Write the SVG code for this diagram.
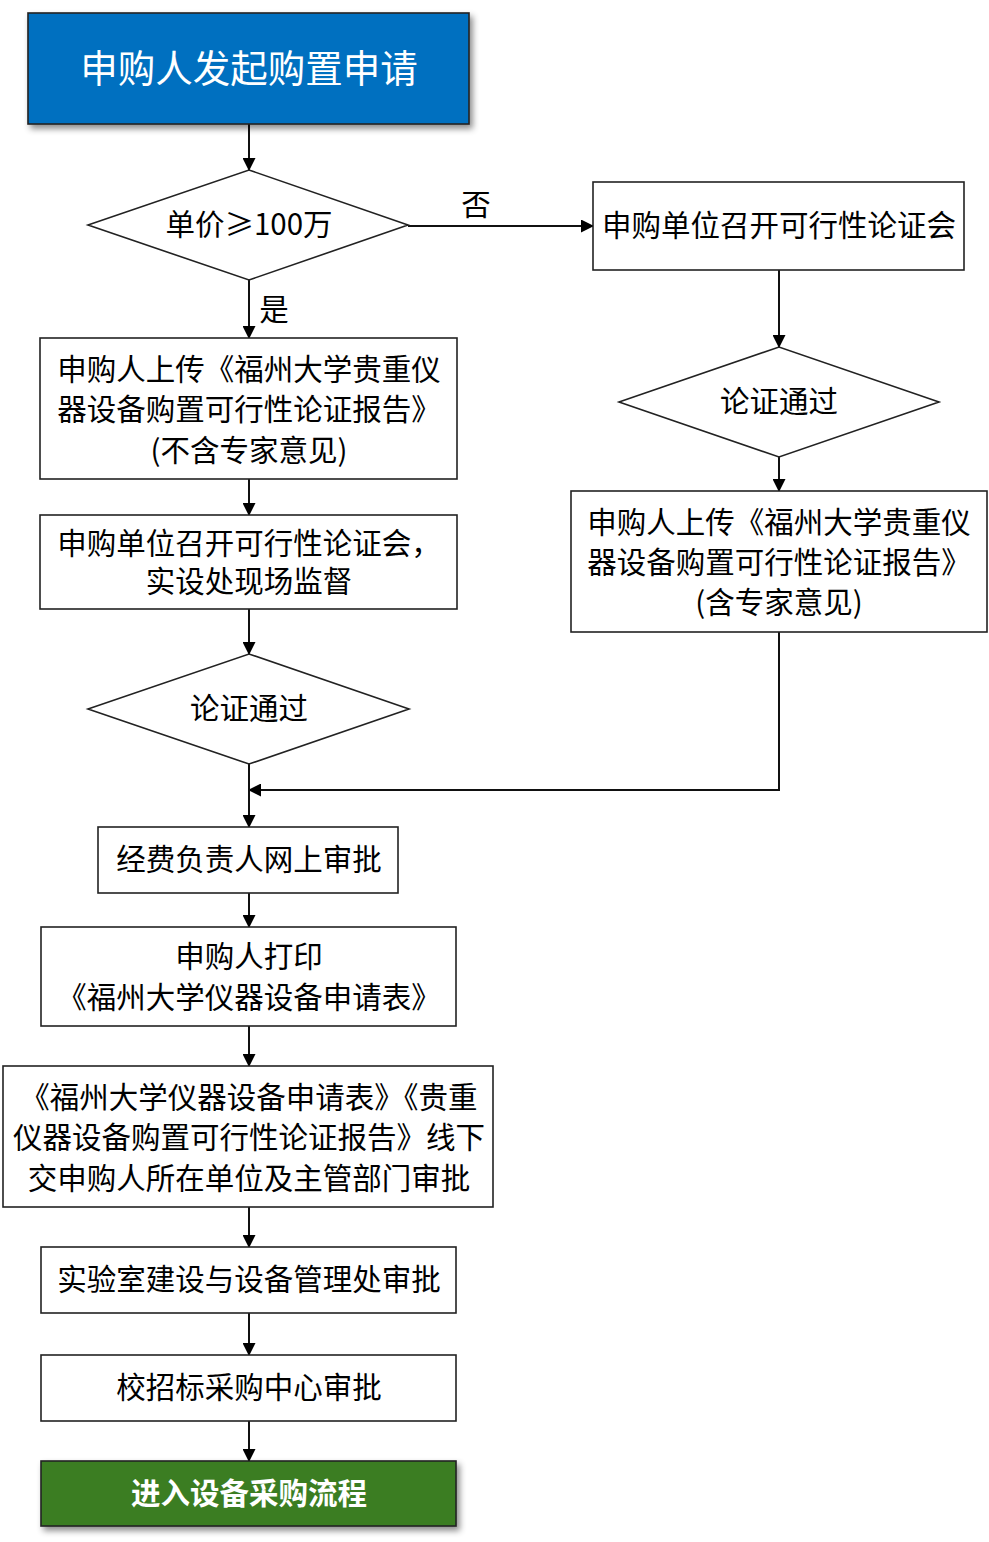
<svg xmlns="http://www.w3.org/2000/svg" width="989" height="1542" viewBox="0 0 989 1542">
<style>
.b{fill:#fff;stroke:#222;stroke-width:1.6}
.t{font-family:"Noto Sans CJK SC","Noto Sans",sans-serif;font-size:29.5px;fill:#000;text-anchor:middle;dominant-baseline:central}
.w{fill:#fff}
.c{fill:none;stroke:#111;stroke-width:2}
</style>
<defs>
<marker id="a" markerWidth="13" markerHeight="13" refX="12" refY="6.5" orient="auto" markerUnits="userSpaceOnUse" viewBox="0 0 13 13">
<path d="M0,0 L13,6.5 L0,13 z" fill="#000"/>
</marker>
<filter id="s" x="-10%" y="-20%" width="125%" height="150%">
<feDropShadow dx="3" dy="4" stdDeviation="3" flood-color="#000" flood-opacity="0.45"/>
</filter>
</defs>
<g id="connectors">
<line class="c" x1="249" y1="124" x2="249" y2="170" marker-end="url(#a)"/>
<line class="c" x1="408" y1="226" x2="593" y2="226" marker-end="url(#a)"/>
<line class="c" x1="249" y1="280" x2="249" y2="338" marker-end="url(#a)"/>
<line class="c" x1="779" y1="270" x2="779" y2="347" marker-end="url(#a)"/>
<line class="c" x1="779" y1="457" x2="779" y2="491" marker-end="url(#a)"/>
<line class="c" x1="249" y1="479" x2="249" y2="515" marker-end="url(#a)"/>
<line class="c" x1="249" y1="609" x2="249" y2="654" marker-end="url(#a)"/>
<polyline class="c" points="779,632 779,790 249,790" marker-end="url(#a)"/>
<line class="c" x1="249" y1="764" x2="249" y2="827" marker-end="url(#a)"/>
<line class="c" x1="249" y1="893" x2="249" y2="927" marker-end="url(#a)"/>
<line class="c" x1="249" y1="1026" x2="249" y2="1066" marker-end="url(#a)"/>
<line class="c" x1="249" y1="1207" x2="249" y2="1247" marker-end="url(#a)"/>
<line class="c" x1="249" y1="1313" x2="249" y2="1355" marker-end="url(#a)"/>
<line class="c" x1="249" y1="1421" x2="249" y2="1461" marker-end="url(#a)"/>
<text class="t" x="476" y="202">否</text>
<text class="t" x="274" y="307">是</text>
</g>
<g id="start">
<rect x="28" y="13" width="441" height="111" fill="#0070C0" stroke="#222" stroke-width="1.6" filter="url(#s)"/>
<text class="t w" x="249" y="65" style="font-size:37.5px">申购人发起购置申请</text>
</g>
<g id="d1">
<polygon class="b" points="88,225 249,170 408,225 249,280"/>
<text class="t" x="249" y="222">单价≥100万</text>
</g>
<g id="r1">
<rect class="b" x="593" y="182" width="371" height="88"/>
<text class="t" x="779" y="223">申购单位召开可行性论证会</text>
</g>
<g id="d2">
<polygon class="b" points="619,402 779,347 939,402 779,457"/>
<text class="t" x="779" y="399">论证通过</text>
</g>
<g id="r2">
<rect class="b" x="571" y="491" width="416" height="141"/>
<text class="t" x="779" y="520">申购人上传《福州大学贵重仪</text>
<text class="t" x="779" y="560">器设备购置可行性论证报告》</text>
<text class="t" x="779" y="600">(含专家意见)</text>
</g>
<g id="l1">
<rect class="b" x="40" y="338" width="417" height="141"/>
<text class="t" x="249" y="367">申购人上传《福州大学贵重仪</text>
<text class="t" x="249" y="407">器设备购置可行性论证报告》</text>
<text class="t" x="249" y="448">(不含专家意见)</text>
</g>
<g id="l2">
<rect class="b" x="40" y="515" width="417" height="94"/>
<text class="t" x="249" y="541">申购单位召开可行性论证会，</text>
<text class="t" x="249" y="579">实设处现场监督</text>
</g>
<g id="d3">
<polygon class="b" points="88,709 249,654 409,709 249,764"/>
<text class="t" x="249" y="706">论证通过</text>
</g>
<g id="l3">
<rect class="b" x="98" y="827" width="300" height="66"/>
<text class="t" x="249" y="857">经费负责人网上审批</text>
</g>
<g id="l4">
<rect class="b" x="41" y="927" width="415" height="99"/>
<text class="t" x="249" y="954">申购人打印</text>
<text class="t" x="249" y="995">《福州大学仪器设备申请表》</text>
</g>
<g id="l5">
<rect class="b" x="3" y="1066" width="490" height="141"/>
<text class="t" x="249" y="1095">《福州大学仪器设备申请表》《贵重</text>
<text class="t" x="249" y="1135">仪器设备购置可行性论证报告》线下</text>
<text class="t" x="249" y="1176">交申购人所在单位及主管部门审批</text>
</g>
<g id="l6">
<rect class="b" x="41" y="1247" width="415" height="66"/>
<text class="t" x="249" y="1277">实验室建设与设备管理处审批</text>
</g>
<g id="l7">
<rect class="b" x="41" y="1355" width="415" height="66"/>
<text class="t" x="249" y="1385">校招标采购中心审批</text>
</g>
<g id="end">
<rect x="41" y="1461" width="415" height="65" fill="#3A7D22" stroke="#222" stroke-width="1.6" filter="url(#s)"/>
<text class="t w" x="249" y="1491" style="font-weight:bold">进入设备采购流程</text>
</g>
</svg>
